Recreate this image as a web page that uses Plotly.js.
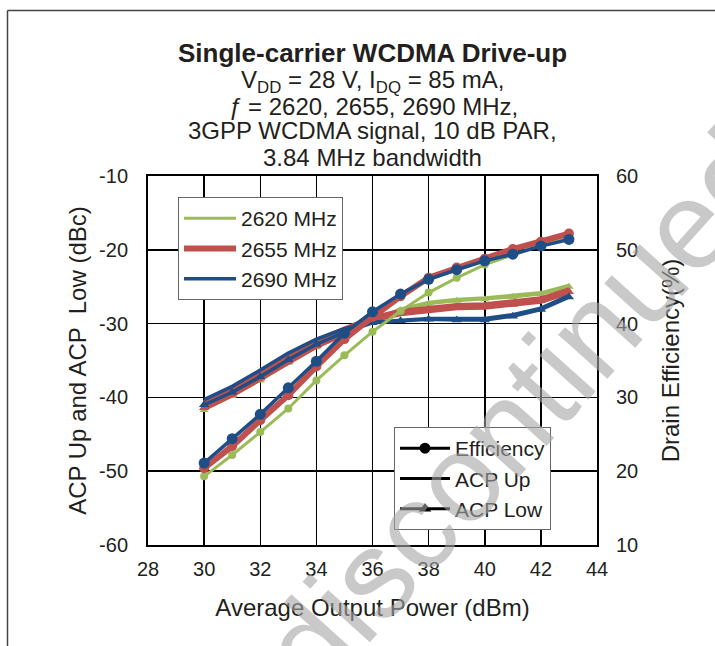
<!DOCTYPE html>
<html>
<head>
<meta charset="utf-8">
<script src="https://cdn.plot.ly/plotly-3.0.1.min.js"></script>
<style>
  html, body { margin: 0; padding: 0; background: #ffffff; }
  #chart { width: 715px; height: 646px; }
</style>
</head>
<body>
<div id="chart"></div>
<script>
// ---- data ----
const outputPower = [30, 31, 32, 33, 34, 35, 36, 37, 38, 39, 40, 41, 42, 43];
const frequencies = ['2620 MHz', '2655 MHz', '2690 MHz'];

// ACP Up (dBc)
const acpUp2620 = [-41.2, -39.2, -37.0, -34.8, -32.8, -31.0, -29.5, -28.0, -27.1, -26.7, -26.5, -26.2, -25.8, -24.8];
const acpUp2655 = [-40.8, -38.9, -36.7, -34.5, -32.4, -30.8, -29.3, -28.4, -27.9, -27.6, -27.5, -27.2, -26.7, -25.5];
const acpUp2690 = [-40.3, -38.5, -36.3, -34.0, -32.1, -30.7, -29.8, -29.5, -29.3, -29.3, -29.3, -28.8, -27.9, -26.2];

// ACP Low (dBc)
const acpLow2620 = [-41.7, -39.8, -37.7, -35.3, -33.2, -31.4, -29.6, -28.2, -27.3, -26.9, -26.7, -26.4, -26.0, -25.0];
const acpLow2655 = [-41.4, -39.6, -37.4, -35.1, -33.0, -31.3, -29.4, -28.6, -28.1, -27.8, -27.7, -27.4, -26.9, -25.7];
const acpLow2690 = [-41.0, -39.3, -37.2, -34.9, -32.8, -31.2, -29.9, -29.6, -29.4, -29.5, -29.5, -29.0, -28.1, -26.4];

// Drain efficiency (%)
const eff2620 = [19.3, 22.2, 25.3, 28.5, 32.3, 35.7, 38.9, 41.7, 44.2, 46.2, 48.0, 49.3, 50.6, 51.6];
const eff2655 = [20.4, 23.4, 26.9, 30.3, 34.2, 37.9, 40.9, 43.7, 46.2, 47.6, 48.8, 50.1, 51.1, 52.2];
const eff2690 = [21.1, 24.4, 27.7, 31.3, 34.9, 38.7, 41.6, 44.0, 46.0, 47.3, 48.5, 49.4, 50.5, 51.4];

const xTicks = [28, 30, 32, 34, 36, 38, 40, 42, 44];
const yLeftTicks = [-60, -50, -40, -30, -20, -10];
const yRightTicks = [10, 20, 30, 40, 50, 60];
const typeNames = ['Efficiency', 'ACP Up', 'ACP Low'];

// ---- styling ----
const FONT = '"Liberation Sans", Arial, Helvetica, sans-serif';
const TXT = '#231f20';
const styles = [
  { color: '#9bbb59', width: 3,   msize: 8,  tsize: 8 },
  { color: '#c0504d', width: 6,   msize: 10, tsize: 9 },
  { color: '#1f4e86', width: 3.5, msize: 11, tsize: 9 }
];
const series = [
  { up: acpUp2620, low: acpLow2620, eff: eff2620 },
  { up: acpUp2655, low: acpLow2655, eff: eff2655 },
  { up: acpUp2690, low: acpLow2690, eff: eff2690 }
];

const traces = [];
series.forEach((s, i) => {
  const st = styles[i];
  traces.push({
    x: outputPower, y: s.up, yaxis: 'y', type: 'scatter', mode: 'lines',
    name: frequencies[i], legend: 'legend', showlegend: true,
    line: { color: st.color, width: st.width }
  });
  traces.push({
    x: outputPower, y: s.low, yaxis: 'y', type: 'scatter', mode: 'lines+markers',
    name: frequencies[i] + ' ACP Low', showlegend: false,
    line: { color: st.color, width: st.width },
    marker: { symbol: 'triangle-up', size: st.tsize, color: st.color }
  });
  traces.push({
    x: outputPower, y: s.eff, yaxis: 'y2', type: 'scatter', mode: 'lines+markers',
    name: frequencies[i] + ' Efficiency', showlegend: false,
    line: { color: st.color, width: st.width },
    marker: { symbol: 'circle', size: st.msize, color: st.color }
  });
});

// black legend entries for the curve types
const typeMarkers = ['circle', null, 'triangle-up'];
typeNames.forEach((n, i) => {
  traces.push({
    x: [null], y: [null], yaxis: 'y', type: 'scatter',
    mode: typeMarkers[i] ? 'lines+markers' : 'lines',
    name: n, legend: 'legend2', showlegend: true,
    line: { color: '#000000', width: 3 },
    marker: { symbol: typeMarkers[i] || 'circle', size: 11, color: '#000000' }
  });
});

function py(p) { return 1 + (176 - p) / 369; }
function px(p) { return (p - 148) / 449; }

const titleLines = [
  { t: '<b>Single-carrier WCDMA Drive-up</b>', y: 53, s: 26 },
  { t: 'V<sub>DD</sub> = 28 V, I<sub>DQ</sub> = 85 mA,', y: 81, s: 24 },
  { t: '<i>ƒ</i> = 2620, 2655, 2690 MHz,', y: 106, s: 24 },
  { t: '3GPP WCDMA signal, 10 dB PAR,', y: 131, s: 24 },
  { t: '3.84 MHz bandwidth', y: 157, s: 24 }
];
const annotations = titleLines.map(l => ({
  text: l.t, xref: 'paper', yref: 'paper', x: 0.5, y: py(l.y),
  xanchor: 'center', yanchor: 'middle', showarrow: false,
  font: { family: FONT, size: l.s, color: TXT }
}));
// watermark
annotations.push({
  text: 'discontinued', xref: 'paper', yref: 'paper', x: px(520), y: py(410),
  xanchor: 'center', yanchor: 'middle', showarrow: false, textangle: -48,
  font: { family: FONT, size: 125, color: 'rgba(165,165,165,0.6)' }
});

const axisCommon = {
  showgrid: true, gridcolor: '#000000', gridwidth: 1.5,
  showline: true, linecolor: '#000000', linewidth: 2, mirror: true,
  zeroline: false, ticks: '', tickfont: { family: FONT, size: 20, color: TXT }
};

const layout = {
  width: 715, height: 646,
  margin: { l: 148, r: 118, t: 176, b: 101 },
  paper_bgcolor: '#ffffff', plot_bgcolor: '#ffffff',
  font: { family: FONT, color: TXT },
  showlegend: true,
  xaxis: Object.assign({}, axisCommon, {
    range: [28, 44], tickvals: xTicks, ticktext: xTicks.map(String),
    ticklabelstandoff: 5,
    title: { text: 'Average Output Power (dBm)', font: { family: FONT, size: 24, color: TXT }, standoff: 20 }
  }),
  yaxis: Object.assign({}, axisCommon, {
    range: [-60, -10], tickvals: yLeftTicks, ticktext: yLeftTicks.map(String),
    ticklabelstandoff: 14,
    title: { text: 'ACP Up and ACP  Low (dBc)', font: { family: FONT, size: 24, color: TXT }, standoff: 6 }
  }),
  yaxis2: Object.assign({}, axisCommon, {
    overlaying: 'y', side: 'right', showgrid: false, mirror: false,
    range: [10, 60], tickvals: yRightTicks, ticktext: yRightTicks.map(String),
    ticklabelstandoff: 13,
    title: { text: 'Drain Efficiency(%)', font: { family: FONT, size: 24, color: TXT }, standoff: 25 }
  }),
  legend: {
    x: px(178), y: py(197), xanchor: 'left', yanchor: 'top',
    bgcolor: '#ffffff', bordercolor: '#666666', borderwidth: 1,
    font: { family: FONT, size: 21, color: TXT }, itemwidth: 52, tracegroupgap: 0
  },
  legend2: {
    x: px(394), y: py(427), xanchor: 'left', yanchor: 'top',
    bgcolor: '#ffffff', bordercolor: '#666666', borderwidth: 1,
    font: { family: FONT, size: 21, color: TXT }, itemwidth: 50, tracegroupgap: 0
  },
  annotations: annotations,
  shapes: [
    { type: 'line', xref: 'paper', yref: 'paper', x0: px(7.5), x1: px(720), y0: py(10.5), y1: py(10.5), line: { color: '#444444', width: 1.5 } },
    { type: 'line', xref: 'paper', yref: 'paper', x0: px(7.5), x1: px(7.5), y0: py(10.5), y1: py(660), line: { color: '#444444', width: 1.5 } }
  ]
};

Plotly.newPlot('chart', traces, layout, { staticPlot: true, displayModeBar: false });
</script>
</body>
</html>
